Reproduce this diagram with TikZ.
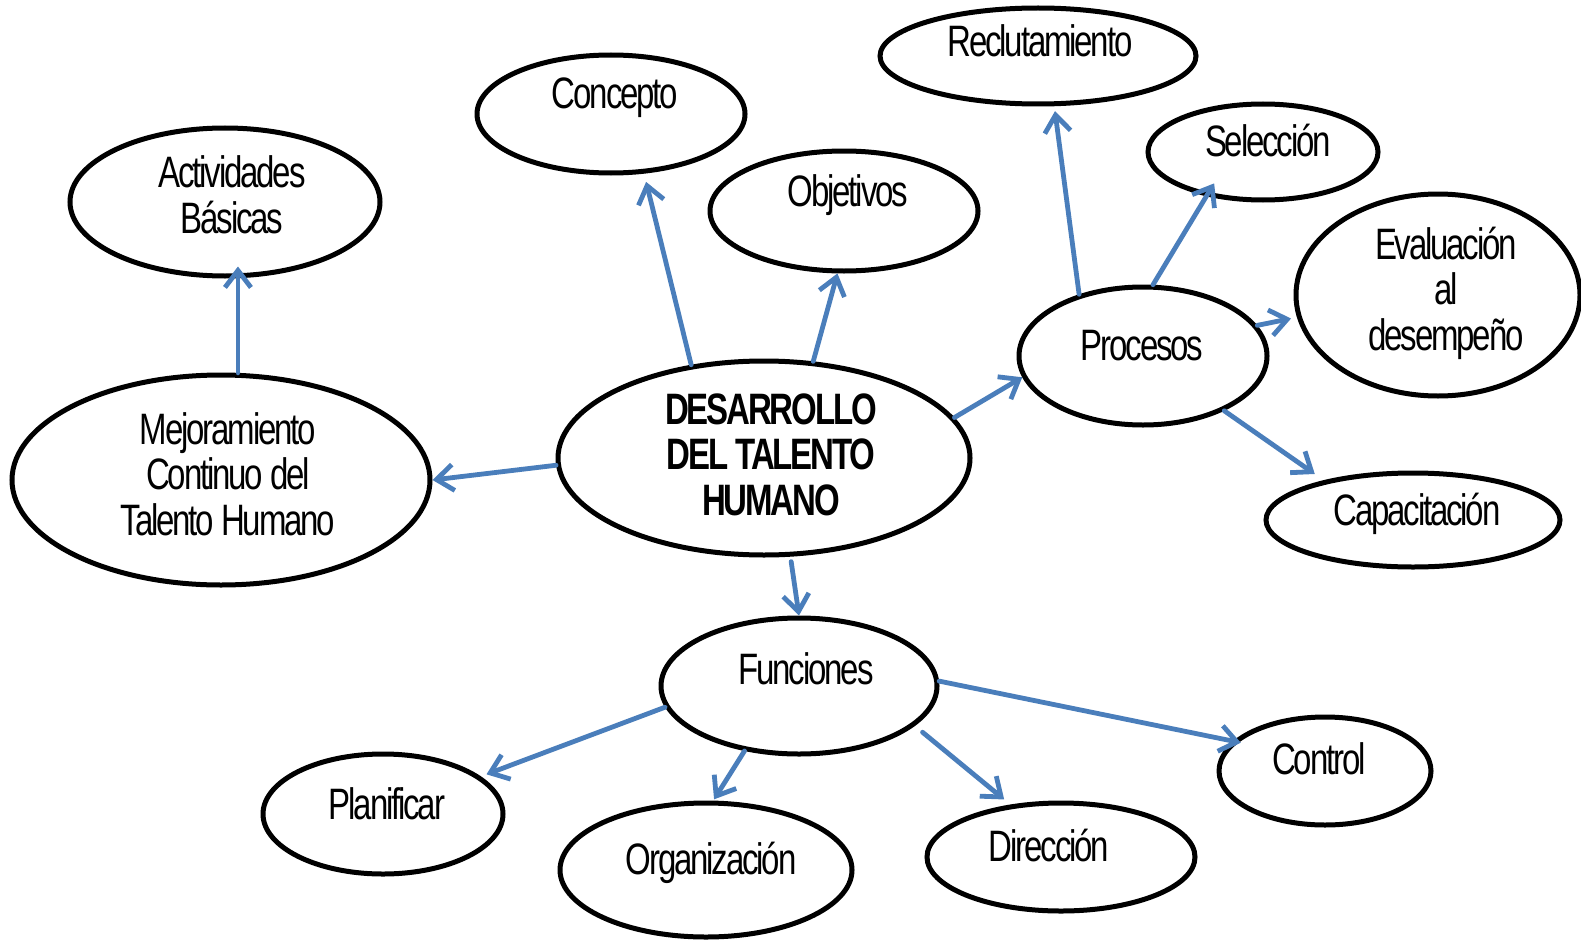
\documentclass[tikz,border=0pt]{standalone}
\usepackage{fontspec}
\setmainfont{Liberation Sans}[FakeStretch=0.75,LetterSpace=-4.9]
\usetikzlibrary{shapes.geometric,arrows.meta}
\definecolor{linkblue}{RGB}{74,126,187}
\tikzset{
  bubble/.style 2 args={ellipse, draw=black, line width=5pt, fill=white,
    inner sep=0pt, minimum width=#1pt, minimum height=#2pt},
  caption/.style={anchor=base, inner sep=0pt, font=\fontsize{44}{45.5}\selectfont},
  link/.style={draw=linkblue, line width=4.8pt, line cap=round,
    -{Straight Barb[length=17pt,width=26pt]}},
}
\newcommand{\lines}[1]{\begin{tabular}[t]{@{}c@{}}#1\end{tabular}}
\begin{document}
\begin{tikzpicture}[x=1pt,y=-1pt]
\useasboundingbox (0,0) rectangle (1581,939);

% ellipses
\node[bubble={310}{148}] (act)  at (225,202) {};
\node[bubble={268}{118}] (conc) at (611,114) {};
\node[bubble={268}{120}] (obj)  at (844,211) {};
\node[bubble={316}{96}]  (recl) at (1038,56) {};
\node[bubble={230}{96}]  (sel)  at (1263,152) {};
\node[bubble={284}{202}] (eval) at (1438,295) {};
\node[bubble={248}{138}] (proc) at (1143,356) {};
\node[bubble={294}{94}]  (cap)  at (1413,520) {};
\node[bubble={412}{194}] (dev)  at (764,458) {};
\node[bubble={418}{210}] (mejo) at (221,480) {};
\node[bubble={276}{136}] (fun)  at (799,686) {};
\node[bubble={240}{120}] (plan) at (383,814) {};
\node[bubble={292}{134}] (org)  at (706,870) {};
\node[bubble={268}{108}] (dir)  at (1061,857) {};
\node[bubble={212}{108}] (ctrl) at (1325,771) {};

% captions
\node[caption] (t-act)  at (232,187)  {\lines{Actividades\\Básicas}};
\node[caption] (t-conc) at (615,109)  {Concepto};
\node[caption] (t-obj)  at (848,206)  {Objetivos};
\node[caption] (t-recl) at (1040,57)  {Reclutamiento};
\node[caption] (t-sel)  at (1268,156) {Selección};
\node[caption] (t-eval) at (1446,259) {\lines{Evaluación\\al\\desempeño}};
\node[caption] (t-proc) at (1142,360) {Procesos};
\node[caption] (t-cap)  at (1417,525) {Capacitación};
\node[caption,font=\fontsize{44}{45.5}\selectfont\bfseries] (t-dev) at (771,424)
  {\lines{DESARROLLO\\DEL TALENTO\\HUMANO}};
\node[caption] (t-mejo) at (228,444)  {\lines{Mejoramiento\\Continuo del\\Talento Humano}};
\node[caption] (t-fun)  at (806,684)  {Funciones};
\node[caption] (t-plan) at (387,819)  {Planificar};
\node[caption] (t-org)  at (711,874)  {Organización};
\node[caption] (t-dir)  at (1049,861) {Dirección};
\node[caption] (t-ctrl) at (1319,774) {Control};

% connectors
\draw[link, shorten >=-12pt] (mejo.81) -- (mejo.81 |- act.south);
\draw[link, shorten >=8.5pt] (dev.128) -- (conc.-61);
\draw[link] (dev.63) -- (obj.-96.5);
\draw[link] (dev.182) -- (mejo.0);
\draw[link] (dev.12) -- (proc.-170);
\draw[link, shorten <=5pt] (dev.-75) -- (fun.90);
\draw[link, shorten >=5pt] (proc.136) -- (recl.-72.3);
\draw[link, shorten >=-15pt] (proc.82.6) -- (sel.-142);
\draw[link, shorten >=6pt] (proc.15) -- (eval.-171.2);
\draw[link, shorten >=11pt] (proc.-34) -- (cap.156.8);
\draw[link, shorten >=6pt] (fun.-171.8) -- (plan.21.9);
\draw[link, shorten >=1.5pt] (fun.-130.4) -- (org.84.2);
\draw[link, shorten <=10pt, shorten >=8pt] (fun.-19) -- (dir.134.7);
\draw[link, shorten >=-8pt] (fun.2) -- (ctrl.162.3);
\end{tikzpicture}
\end{document}
